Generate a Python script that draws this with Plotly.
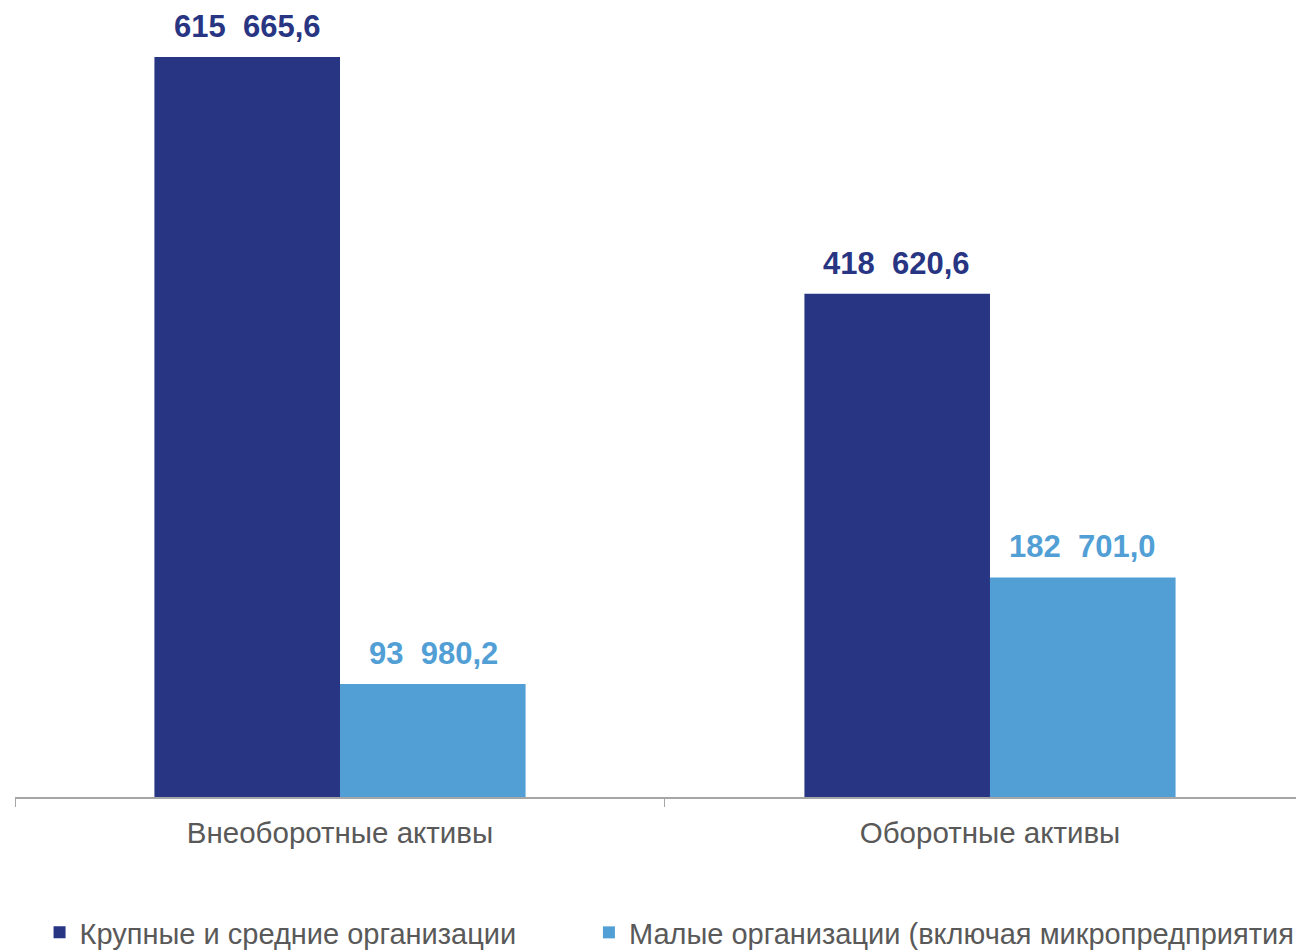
import plotly.graph_objects as go

categories = ["Внеоборотные активы", "Оборотные активы"]
series_names = ["Крупные и средние организации", "Малые организации (включая микропредприятия"]
large_values = [615665.6, 418620.6]
small_values = [93980.2, 182701.0]
large_labels = ["615\u00a0\u00a0665,6", "418\u00a0\u00a0620,6"]
small_labels = ["93\u00a0\u00a0980,2", "182\u00a0\u00a0701,0"]

DARK = "#283583"
LIGHT = "#529FD6"
GRAY_TEXT = "#595959"
FONT = "Liberation Sans, Arial, sans-serif"

fig = go.Figure()
fig.add_trace(go.Bar(x=categories, y=large_values, name=series_names[0],
                     marker=dict(color=DARK, line=dict(width=0)), legend="legend"))
fig.add_trace(go.Bar(x=categories, y=small_values, name=series_names[1],
                     marker=dict(color=LIGHT, line=dict(width=0)), legend="legend2"))

annotations = []
for cat, v, t in zip(categories, large_values, large_labels):
    annotations.append(dict(x=cat, y=v, text=t, showarrow=False, xshift=-93, yshift=11,
                            yanchor="bottom", xanchor="center",
                            font=dict(family=FONT, size=31, color=DARK, weight="bold")))
for cat, v, t in zip(categories, small_values, small_labels):
    annotations.append(dict(x=cat, y=v, text=t, showarrow=False, xshift=93, yshift=11,
                            yanchor="bottom", xanchor="center",
                            font=dict(family=FONT, size=31, color=LIGHT, weight="bold")))

legend_common = dict(orientation="h", xref="container", yref="container",
                     y=0.0, xanchor="left", yanchor="bottom",
                     font=dict(family=FONT, size=29, color=GRAY_TEXT),
                     itemwidth=30, bgcolor="rgba(0,0,0,0)")

fig.update_layout(
    width=1304, height=950,
    margin=dict(l=7, r=0, t=0, b=161),
    paper_bgcolor="white", plot_bgcolor="white",
    barmode="group", bargap=0.429, bargroupgap=0,
    font=dict(family=FONT, color=GRAY_TEXT),
    annotations=annotations,
    showlegend=True,
    xaxis=dict(type="category", range=[-0.5, 1.4954], tickson="boundaries",
               ticks="outside", ticklen=8, tickcolor="#A6A6A6", tickwidth=1,
               showline=True, linecolor="#A6A6A6", linewidth=1.5,
               showgrid=False, tickfont=dict(family=FONT, size=29.5, color=GRAY_TEXT),
               ticklabelstandoff=9),
    yaxis=dict(range=[0, 656461], visible=False, showgrid=False, zeroline=False),
    legend=dict(x=0.0242, **legend_common),
    legend2=dict(x=0.4455, **legend_common),
)

fig.write_html("out.html")
